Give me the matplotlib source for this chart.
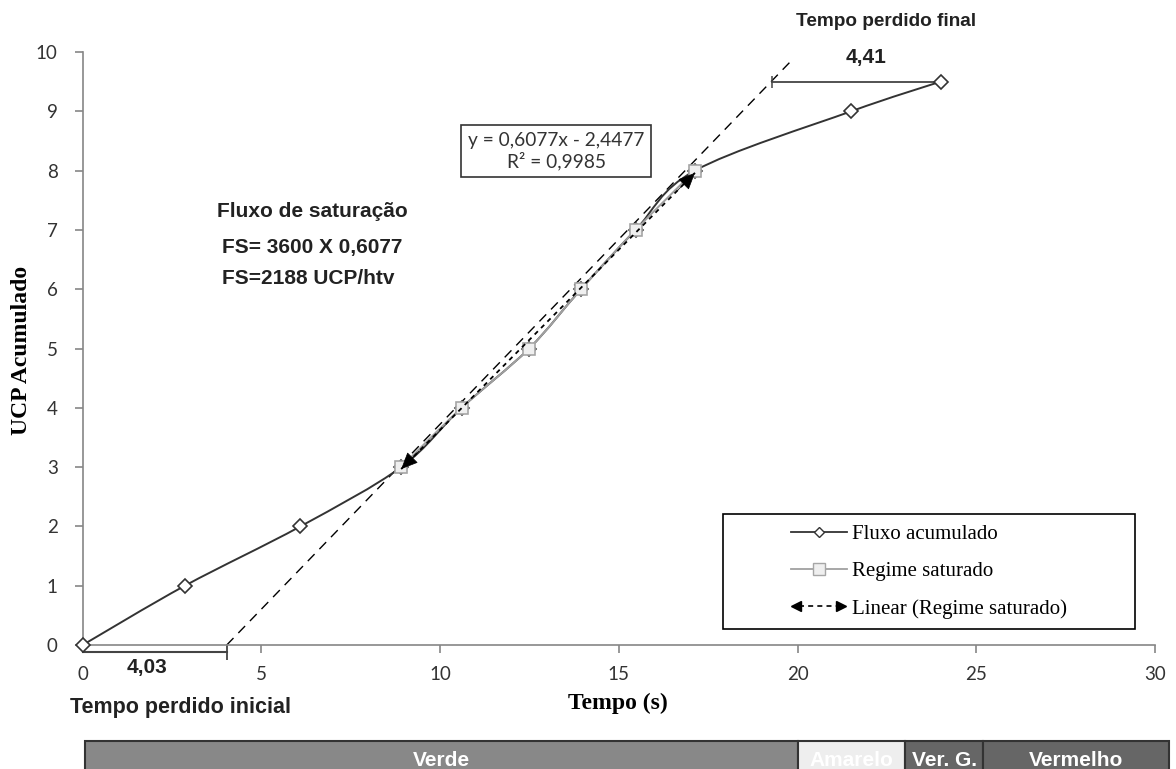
import matplotlib
matplotlib.use("Agg")
import matplotlib.pyplot as plt
from matplotlib.path import Path
from matplotlib.patches import PathPatch, Rectangle
from matplotlib.lines import Line2D
from matplotlib.legend_handler import HandlerBase

# data
tempo_fluxo = [0, 2.86, 6.09, 8.91, 10.6, 12.49, 13.94, 15.47, 17.13, 21.5, 24.0]
ucp_fluxo = [0, 1, 2, 3, 4, 5, 6, 7, 8, 9, 9.5]

tempo_sat = [8.91, 10.6, 12.49, 13.94, 15.47, 17.13]
ucp_sat = [3, 4, 5, 6, 7, 8]

slope = 0.6077
intercept = -2.4477
r2 = 0.9985

# hand drawn tangent and lost times
tangent_x = [4.03, 19.9]
tangent_y = [0, 9.9]
perdido_inicial = [0, 4.03]
perdido_final = [19.28, 24.0]

fases = ["Verde", "Amarelo", "Ver. G.", "Vermelho"]
fase_inicio = [0.06, 20.0, 23.0, 25.2]
fase_fim = [20.0, 23.0, 25.2, 30.4]
fase_cor = ["#888888", "#eeeeee", "#666666", "#666666"]


def smooth_path(xs, ys):
    # excel-like smoothed line as cubic bezier (catmull-rom control points)
    pts = list(zip(xs, ys))
    n = len(pts)
    verts = [pts[0]]
    codes = [Path.MOVETO]
    for i in range(n - 1):
        p0 = pts[i - 1] if i > 0 else pts[i]
        p1 = pts[i]
        p2 = pts[i + 1]
        p3 = pts[i + 2] if i + 2 < n else pts[i + 1]
        c1 = (p1[0] + (p2[0] - p0[0]) / 6, p1[1] + (p2[1] - p0[1]) / 6)
        c2 = (p2[0] - (p3[0] - p1[0]) / 6, p2[1] - (p3[1] - p1[1]) / 6)
        verts += [c1, c2, p2]
        codes += [Path.CURVE4] * 3
    return Path(verts, codes)


class HandlerArrowLine(HandlerBase):
    def create_artists(self, legend, orig_handle, xdescent, ydescent,
                       width, height, fontsize, trans):
        y = height / 2 - ydescent
        x0, x1 = -xdescent, -xdescent + width
        line = Line2D([x0 + 6, x1 - 6], [y, y], color="black", lw=1.2,
                      ls=(0, (3, 2.5)), transform=trans)
        left = Line2D([x0 + 4], [y], marker="<", ms=7, color="black",
                      ls="none", transform=trans)
        right = Line2D([x1 - 4], [y], marker=">", ms=7, color="black",
                       ls="none", transform=trans)
        return [line, left, right]


W, H = 1176, 769
fig = plt.figure(figsize=(W / 100, H / 100), dpi=100)
ax = fig.add_axes([82.7 / W, 1 - 645 / H, (1155 - 82.7) / W, (645 - 52) / H])


def px(x, y):
    return x / W, 1 - y / H


fluxo_col = "#333333"
sat_col = "#a0a0a0"

# tangent (dashed) line
ax.plot(tangent_x, tangent_y, color="black", lw=1, ls=(0, (7, 5)), clip_on=False, zorder=2)

# Fluxo acumulado
ax.add_patch(PathPatch(smooth_path(tempo_fluxo, ucp_fluxo), fill=False,
                       ec=fluxo_col, lw=1.4, zorder=3))
ax.plot(tempo_fluxo, ucp_fluxo, ls="none", marker="D", ms=7, mfc="white",
        mec=fluxo_col, mew=1.2, clip_on=False, zorder=4)

# Regime saturado
ax.add_patch(PathPatch(smooth_path(tempo_sat, ucp_sat), fill=False,
                       ec=sat_col, lw=1.4, zorder=5))
ax.plot(tempo_sat, ucp_sat, ls="none", marker="s", ms=8, mfc="#efefef",
        mec="#a6a6a6", mew=1.2, zorder=6)

# linear trendline with arrow heads
tx = [min(tempo_sat), max(tempo_sat)]
ty = [slope * v + intercept for v in tx]
ax.plot(tx, ty, color="black", lw=1.3, ls=(0, (2.5, 2.5)), zorder=7)
for i, j in [(0, 1), (1, 0)]:
    back = tx[i] + (tx[j] - tx[i]) * 0.06
    ax.annotate("", xy=(tx[i], ty[i]), xytext=(back, slope * back + intercept),
                arrowprops=dict(arrowstyle="-|>,head_length=0.9,head_width=0.4",
                                color="black", lw=0.5, shrinkA=0, shrinkB=0,
                                mutation_scale=12), zorder=8)

# lost time dimension lines
ax.plot(perdido_inicial, [-0.11, -0.11], color="#444444", lw=1.5, clip_on=False, zorder=2)
ax.plot([perdido_inicial[1]], [-0.11], marker="|", ms=11, mew=1.3, color="#444444", clip_on=False)
ax.plot(perdido_final, [9.5, 9.5], color="#444444", lw=1.3, clip_on=False, zorder=2)
ax.plot([perdido_final[0]], [9.5], marker="|", ms=9, mew=1.1, color="#444444", clip_on=False)

# equation box
ax.text(13.25, 8.33, f"y = {slope:.4f}x - {abs(intercept):.4f}\nR² = {r2:.4f}".replace(".", ","),
        ha="center", va="center", multialignment="center", family="Lato",
        fontsize=13.8, color="#333333", linespacing=1.2,
        bbox=dict(boxstyle="square,pad=0.35", fc="white", ec="#333333", lw=1.2), zorder=9)

# axes styling
ax.set_xlim(0, 30)
ax.set_ylim(0, 10)
ax.set_xticks(range(0, 31, 5))
ax.set_yticks(range(0, 11))
for s in ["top", "right"]:
    ax.spines[s].set_visible(False)
for s in ["left", "bottom"]:
    ax.spines[s].set_color("#868686")
    ax.spines[s].set_linewidth(1.2)
ax.tick_params(axis="both", direction="out", length=6, width=1.2, color="#868686",
               labelcolor="#333333", labelsize=13.5)
ax.tick_params(axis="x", pad=9)
ax.tick_params(axis="y", pad=12)
for lab in ax.get_xticklabels() + ax.get_yticklabels():
    lab.set_family("Lato")

ax.set_xlabel("Tempo (s)", family="Liberation Serif", weight="bold", fontsize=17, va="center")
ax.xaxis.set_label_coords(0.499, (645 - 703) / 593)
ax.set_ylabel("UCP Acumulado", family="Liberation Serif", weight="bold", fontsize=17, va="center")
ax.yaxis.set_label_coords((22 - 82.7) / 1072.3, 0.497)

# legend
ax.add_patch(Rectangle((0.5968, 0.0265), 0.3845, 0.1944, transform=ax.transAxes,
                       fill=False, ec="black", lw=1.2, zorder=9))
h1 = Line2D([], [], color=fluxo_col, lw=1.3, marker="D", ms=5.5, mfc="white", mec=fluxo_col)
h2 = Line2D([], [], color=sat_col, lw=1.3, marker="s", ms=8, mfc="#efefef", mec="#a6a6a6")
h3 = Line2D([], [])
ax.legend([h1, h2, h3], ["Fluxo acumulado", "Regime saturado", "Linear (Regime saturado)"],
          handler_map={h3: HandlerArrowLine()}, loc="center",
          bbox_to_anchor=(0.789, 0.124), frameon=False,
          prop={"family": "Liberation Serif", "size": 15},
          handlelength=2.7, handletextpad=0.25, labelspacing=0.85)

# annotations
bold = dict(family="Liberation Sans", weight="bold", color="#222222")
fig.text(*px(181, 708), "Tempo perdido inicial", ha="center", va="center", fontsize=15.5, **bold)
fig.text(*px(147, 668), "4,03", ha="center", va="center", fontsize=15, **bold)
fig.text(*px(886, 22), "Tempo perdido final", ha="center", va="center", fontsize=13.7, **bold)
fig.text(*px(866, 57), "4,41", ha="center", va="center", fontsize=15, **bold)
fig.text(*px(217, 217), "Fluxo de saturação", ha="left", va="baseline", fontsize=15, **bold)
fig.text(*px(222, 253), "FS= 3600 X 0,6077", ha="left", va="baseline", fontsize=15, **bold)
fig.text(*px(222, 284), "FS=2188 UCP/htv", ha="left", va="baseline", fontsize=15, **bold)

# signal phase bar
bx = fig.add_axes([82.7 / W, -10 / H, (1155 - 82.7) / W, 38 / H])
bx.set_xlim(0, 30)
bx.set_ylim(0, 1)
bx.axis("off")
widths = [b - a for a, b in zip(fase_inicio, fase_fim)]
bx.barh(0.5, widths, left=fase_inicio, height=1, color=fase_cor, edgecolor="#333333",
        lw=1.5, clip_on=False)
for nome, a, b in zip(fases, fase_inicio, fase_fim):
    bx.text((a + b) / 2, 0.5, nome, ha="center", va="center", color="white",
            family="Liberation Sans", weight="bold", fontsize=15, clip_on=False)

fig.savefig("out.png", dpi=100)
